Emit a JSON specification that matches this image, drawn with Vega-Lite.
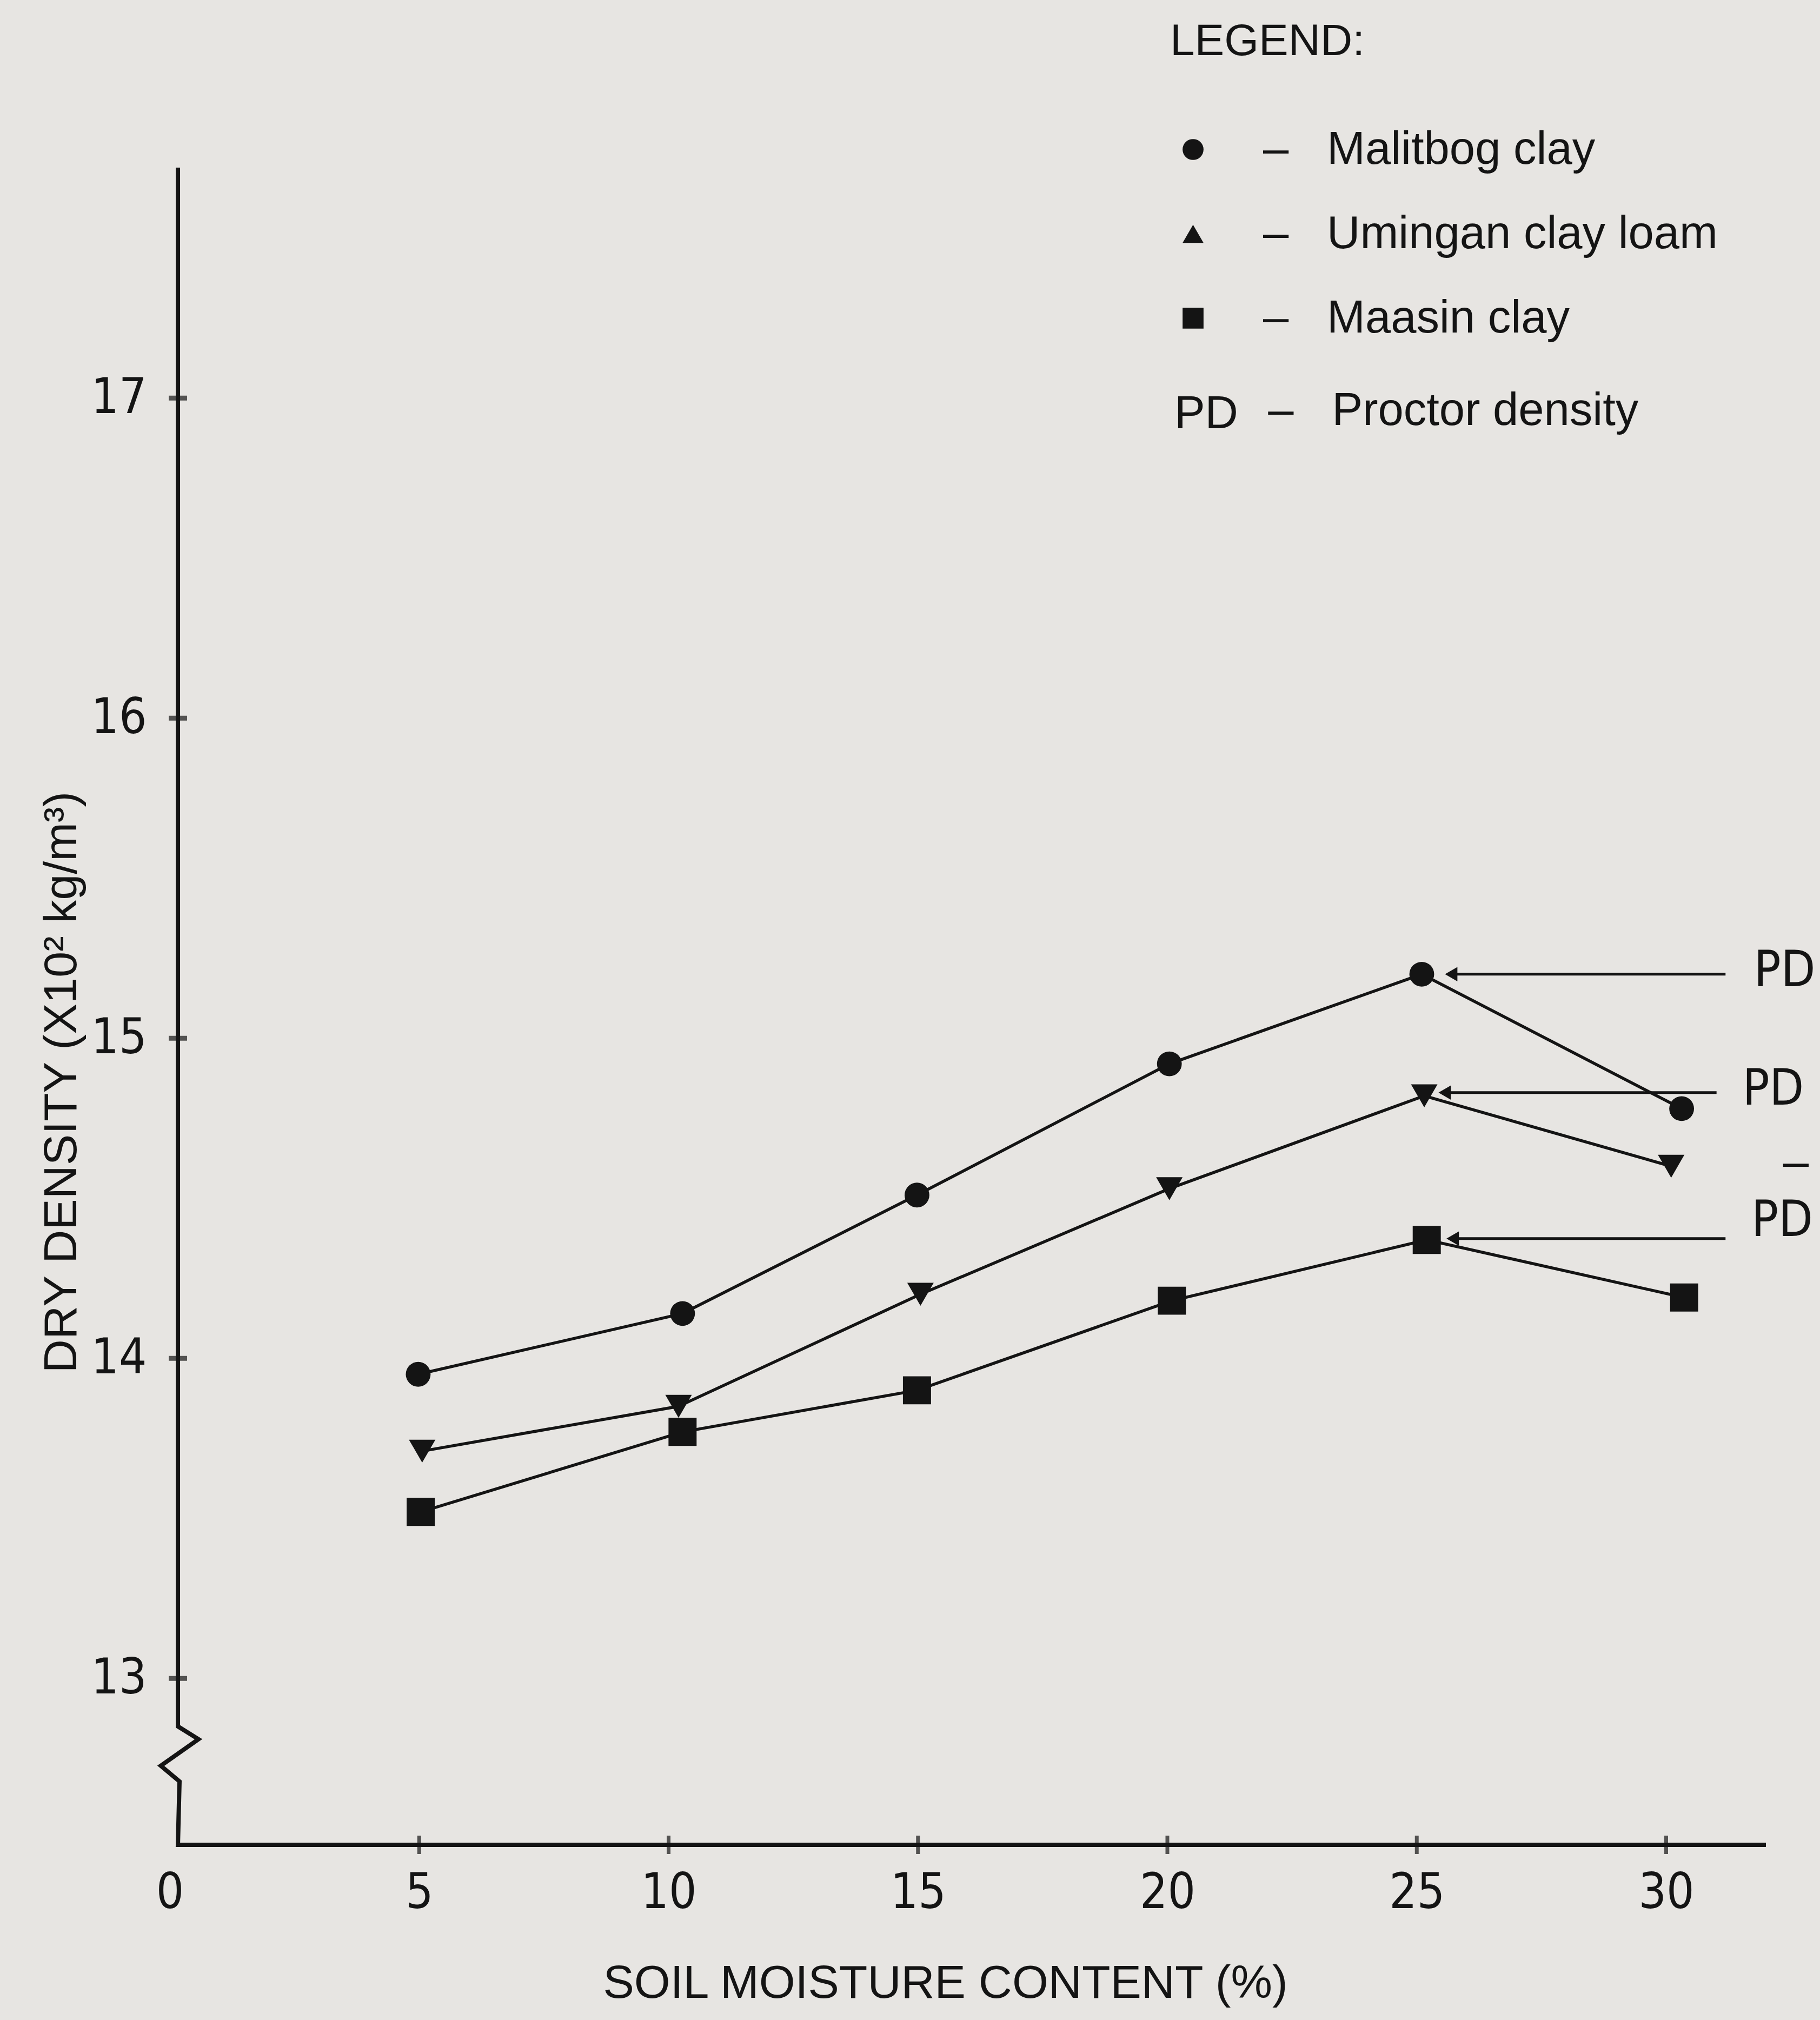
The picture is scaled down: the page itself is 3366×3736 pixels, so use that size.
{
  "$schema": "https://vega.github.io/schema/vega-lite/v6.json",
  "width": 2952,
  "height": 3102,
  "autosize": {"type": "none"},
  "padding": {"left": 314, "top": 310, "right": 100, "bottom": 324},
  "background": "#e7e5e2",
  "config": {"view": {"stroke": null}, "font": "Liberation Sans"},
  "datasets": {
    "soil": [
      {"series": "Malitbog clay", "x": 4.98, "y": 13.95},
      {"series": "Malitbog clay", "x": 10.28, "y": 14.14},
      {"series": "Malitbog clay", "x": 14.98, "y": 14.51},
      {"series": "Malitbog clay", "x": 20.04, "y": 14.92},
      {"series": "Malitbog clay", "x": 25.1, "y": 15.2},
      {"series": "Malitbog clay", "x": 30.31, "y": 14.78},
      {"series": "Umingan clay loam", "x": 5.06, "y": 13.71},
      {"series": "Umingan clay loam", "x": 10.2, "y": 13.85},
      {"series": "Umingan clay loam", "x": 15.05, "y": 14.2},
      {"series": "Umingan clay loam", "x": 20.04, "y": 14.53},
      {"series": "Umingan clay loam", "x": 25.15, "y": 14.82},
      {"series": "Umingan clay loam", "x": 30.1, "y": 14.6},
      {"series": "Maasin clay", "x": 5.03, "y": 13.52},
      {"series": "Maasin clay", "x": 10.28, "y": 13.77},
      {"series": "Maasin clay", "x": 14.98, "y": 13.9},
      {"series": "Maasin clay", "x": 20.09, "y": 14.18},
      {"series": "Maasin clay", "x": 25.2, "y": 14.37},
      {"series": "Maasin clay", "x": 30.36, "y": 14.19}
    ],
    "frame": [
      {"i": 0, "x": 0.163, "y": 17.72},
      {"i": 1, "x": 0.163, "y": 12.85},
      {"i": 2, "x": 0.575, "y": 12.81},
      {"i": 3, "x": -0.18, "y": 12.727},
      {"i": 4, "x": 0.195, "y": 12.678},
      {"i": 5, "x": 0.163, "y": 12.48},
      {"i": 6, "x": 32, "y": 12.48}
    ],
    "yticks": [{"y": 13}, {"y": 14}, {"y": 15}, {"y": 16}, {"y": 17}],
    "xticks": [{"x": 5}, {"x": 10}, {"x": 15}, {"x": 20}, {"x": 25}, {"x": 30}],
    "arrows": [
      {"x": 25.69, "x2": 31.19, "y": 15.2},
      {"x": 25.56, "x2": 31.01, "y": 14.83},
      {"x": 25.72, "x2": 31.19, "y": 14.374}
    ],
    "pdlabels": [
      {"x": 31.76, "y": 15.21, "label": "PD"},
      {"x": 31.53, "y": 14.84, "label": "PD"},
      {"x": 31.71, "y": 14.43, "label": "PD"}
    ]
  },
  "layer": [
    {
      "data": {"name": "soil"},
      "mark": {"type": "line", "color": "#141414", "strokeWidth": 5.5},
      "encoding": {
        "x": {
          "field": "x",
          "type": "quantitative",
          "title": "SOIL MOISTURE CONTENT (%)",
          "scale": {"domain": [0, 32], "nice": false, "zero": false},
          "axis": {
            "values": [0, 5, 10, 15, 20, 25, 30],
            "format": "d",
            "domain": false,
            "ticks": false,
            "tickSize": 0,
            "grid": false,
            "labelFont": "Liberation Sans Narrow, DejaVu Sans Condensed, Liberation Sans",
            "labelFontSize": 90,
            "labelColor": "#141414",
            "labelPadding": 89,
            "labelBaseline": "middle",
            "labelFlush": false,
            "labelOverlap": false,
            "labelLimit": 1000,
            "titleFont": "Liberation Sans",
            "titleFontSize": 86,
            "titleFontWeight": "normal",
            "titleColor": "#141414",
            "titleX": 1434,
            "titleY": 256,
            "titleAlign": "center",
            "titleBaseline": "middle",
            "titleLimit": 3000
          }
        },
        "y": {
          "field": "y",
          "type": "quantitative",
          "title": "DRY DENSITY (X10² kg/m³)",
          "scale": {"domain": [12.48, 17.72], "nice": false, "zero": false},
          "axis": {
            "values": [13, 14, 15, 16, 17],
            "format": "d",
            "domain": false,
            "ticks": false,
            "tickSize": 0,
            "grid": false,
            "labelFont": "Liberation Sans Narrow, DejaVu Sans Condensed, Liberation Sans",
            "labelFontSize": 90,
            "labelColor": "#141414",
            "labelPadding": 43,
            "labelOverlap": false,
            "labelLimit": 1000,
            "titleFont": "Liberation Sans",
            "titleFontSize": 86,
            "titleFontWeight": "normal",
            "titleColor": "#141414",
            "titleX": -200,
            "titleY": 1691,
            "titleAngle": -90,
            "titleAlign": "center",
            "titleBaseline": "middle",
            "titleLimit": 3000
          }
        },
        "detail": {"field": "series", "type": "nominal"}
      }
    },
    {
      "data": {"name": "frame"},
      "mark": {"type": "line", "color": "#141414", "strokeWidth": 8, "strokeJoin": "miter", "clip": false},
      "encoding": {
        "x": {"field": "x", "type": "quantitative", "title": "SOIL MOISTURE CONTENT (%)"},
        "y": {"field": "y", "type": "quantitative", "title": "DRY DENSITY (X10² kg/m³)"},
        "order": {"field": "i", "type": "quantitative"}
      }
    },
    {
      "data": {"name": "yticks"},
      "mark": {"type": "tick", "orient": "horizontal", "size": 34, "thickness": 9, "color": "#141414"},
      "encoding": {
        "x": {"datum": 0.163, "type": "quantitative", "title": "SOIL MOISTURE CONTENT (%)"},
        "y": {"field": "y", "type": "quantitative", "title": "DRY DENSITY (X10² kg/m³)"}
      }
    },
    {
      "data": {"name": "xticks"},
      "mark": {"type": "tick", "orient": "vertical", "size": 34, "thickness": 7, "color": "#141414"},
      "encoding": {
        "x": {"field": "x", "type": "quantitative", "title": "SOIL MOISTURE CONTENT (%)"},
        "y": {"datum": 12.48, "type": "quantitative", "title": "DRY DENSITY (X10² kg/m³)"}
      }
    },
    {
      "data": {"name": "soil"},
      "mark": {"type": "point", "filled": true, "color": "#141414", "opacity": 1},
      "encoding": {
        "x": {"field": "x", "type": "quantitative", "title": "SOIL MOISTURE CONTENT (%)"},
        "y": {"field": "y", "type": "quantitative", "title": "DRY DENSITY (X10² kg/m³)"},
        "shape": {
          "field": "series",
          "type": "nominal",
          "scale": {"domain": ["Malitbog clay", "Umingan clay loam", "Maasin clay"], "range": ["circle", "triangle-down", "square"]},
          "legend": null
        },
        "size": {
          "field": "series",
          "type": "nominal",
          "scale": {"domain": ["Malitbog clay", "Umingan clay loam", "Maasin clay"], "range": [2100, 2700, 1800]},
          "legend": null
        }
      }
    },
    {
      "data": {"name": "soil"},
      "mark": {"type": "point", "filled": true, "color": "#141414", "opacity": 0, "size": 10},
      "encoding": {
        "x": {"field": "x", "type": "quantitative", "title": "SOIL MOISTURE CONTENT (%)"},
        "y": {"field": "y", "type": "quantitative", "title": "DRY DENSITY (X10² kg/m³)"},
        "shape": {
          "field": "series",
          "type": "nominal",
          "scale": {"domain": ["Malitbog clay", "Umingan clay loam", "Maasin clay"], "range": ["circle", "triangle-up", "square"]},
          "legend": {
            "title": "LEGEND:",
            "orient": "none",
            "legendX": 1850,
            "legendY": -273,
            "padding": 0,
            "titleFont": "Liberation Sans",
            "titleFontSize": 82,
            "titleFontWeight": "normal",
            "titleColor": "#141414",
            "titlePadding": 115,
            "titleLimit": 3000,
            "labelFont": "Liberation Sans",
            "labelFontSize": 85,
            "labelColor": "#141414",
            "labelOffset": 87,
            "labelLimit": 3000,
            "rowPadding": 70,
            "symbolSize": 1500,
            "symbolFillColor": "#141414",
            "symbolStrokeWidth": 0,
            "symbolOpacity": 1,
            "labelExpr": "'–\u00a0\u00a0\u00a0' + datum.label"
          }
        }
      }
    },
    {
      "data": {"name": "arrows"},
      "mark": {"type": "rule", "color": "#141414", "strokeWidth": 5},
      "encoding": {
        "x": {"field": "x", "type": "quantitative", "title": "SOIL MOISTURE CONTENT (%)"},
        "x2": {"field": "x2"},
        "y": {"field": "y", "type": "quantitative", "title": "DRY DENSITY (X10² kg/m³)"}
      }
    },
    {
      "data": {"name": "arrows"},
      "mark": {"type": "point", "shape": "triangle-left", "filled": true, "color": "#141414", "opacity": 1, "size": 700},
      "encoding": {
        "x": {"field": "x", "type": "quantitative", "title": "SOIL MOISTURE CONTENT (%)"},
        "y": {"field": "y", "type": "quantitative", "title": "DRY DENSITY (X10² kg/m³)"}
      }
    },
    {
      "data": {"name": "pdlabels"},
      "mark": {"type": "text", "align": "left", "baseline": "middle", "font": "Liberation Sans Narrow, DejaVu Sans Condensed, Liberation Sans", "fontSize": 92, "color": "#141414"},
      "encoding": {
        "x": {"field": "x", "type": "quantitative", "title": "SOIL MOISTURE CONTENT (%)"},
        "y": {"field": "y", "type": "quantitative", "title": "DRY DENSITY (X10² kg/m³)"},
        "text": {"field": "label"}
      }
    },
    {
      "data": {"values": [{"t": "PD"}]},
      "mark": {"type": "text", "align": "left", "baseline": "middle", "fontSize": 85, "color": "#141414"},
      "encoding": {
        "x": {"datum": 20.14, "type": "quantitative", "title": "SOIL MOISTURE CONTENT (%)"},
        "y": {"datum": 16.95, "type": "quantitative", "title": "DRY DENSITY (X10² kg/m³)"},
        "text": {"field": "t"}
      }
    },
    {
      "data": {"values": [{"t": "–\u00a0\u00a0\u00a0Proctor density"}]},
      "mark": {"type": "text", "align": "left", "baseline": "middle", "fontSize": 85, "color": "#141414"},
      "encoding": {
        "x": {"datum": 22.02, "type": "quantitative", "title": "SOIL MOISTURE CONTENT (%)"},
        "y": {"datum": 16.96, "type": "quantitative", "title": "DRY DENSITY (X10² kg/m³)"},
        "text": {"field": "t"}
      }
    },
    {
      "data": {"values": [{"t": "–"}]},
      "mark": {"type": "text", "align": "center", "baseline": "middle", "fontSize": 85, "color": "#141414"},
      "encoding": {
        "x": {"datum": 32.6, "type": "quantitative", "title": "SOIL MOISTURE CONTENT (%)"},
        "y": {"datum": 14.61, "type": "quantitative", "title": "DRY DENSITY (X10² kg/m³)"},
        "text": {"field": "t"}
      }
    }
  ],
  "resolve": {"scale": {"shape": "independent", "size": "independent"}}
}
